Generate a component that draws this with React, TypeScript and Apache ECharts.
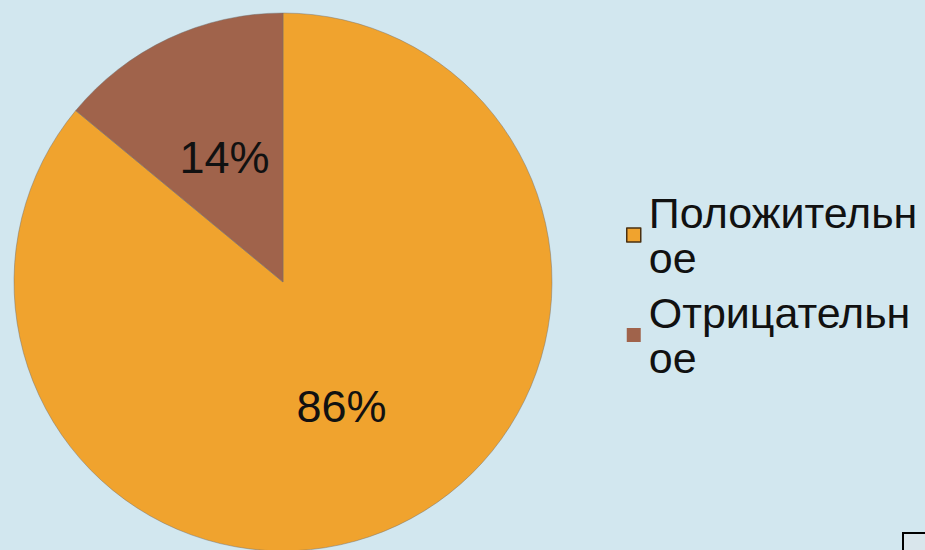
import React, { useEffect, useRef } from "react";
import * as echarts from "echarts";

const categories = ["Положительное", "Отрицательное"];
const values = [86, 14];
const colors = ["#F0A32E", "#A0634B"];

export default function App() {
  const ref = useRef<HTMLDivElement>(null);
  useEffect(() => {
    if (!ref.current) return;
    const chart = echarts.init(ref.current, null, { renderer: "svg" });
    chart.setOption({
      animation: false,
      backgroundColor: "#D2E7EF",
      textStyle: { fontFamily: "Liberation Sans, Arial, sans-serif" },
      legend: {
        orient: "vertical",
        left: 621,
        top: 185,
        itemWidth: 14,
        itemHeight: 14,
        itemGap: 10,
        icon: "rect",
        data: categories.map((n, i) => ({
          name: n,
          itemStyle: i === 0 ? { borderColor: "#4a3010", borderWidth: 1.5 } : { borderWidth: 0 },
        })),
        formatter: (name: string) => name.slice(0, 11) + "\n" + name.slice(11),
        textStyle: {
          fontSize: 43,
          lineHeight: 45,
          color: "#111",
          fontFamily: "Liberation Sans, Arial, sans-serif",
          padding: [0, 0, 0, 3],
        },
      },
      graphic: [
        {
          type: "rect",
          shape: { x: 903, y: 533, width: 40, height: 40 },
          style: { fill: "#D9E6EC", stroke: "#000", lineWidth: 2 },
        },
      ],
      series: [
        {
          type: "pie",
          center: [283, 282],
          radius: [0, 269],
          startAngle: 90,
          clockwise: true,
          silent: true,
          itemStyle: { borderColor: "rgba(110,110,110,0.45)", borderWidth: 1 },
          label: {
            position: "inside",
            formatter: "{c}%",
            fontSize: 45,
            color: "#111",
            fontFamily: "Liberation Sans, Arial, sans-serif",
          },
          labelLine: { show: false },
          data: categories.map((n, i) => ({
            name: n,
            value: values[i],
            itemStyle: { color: colors[i] },
          })),
        },
      ],
    });
    return () => chart.dispose();
  }, []);
  return (
    <div
      ref={ref}
      style={{ position: "fixed", left: 0, top: 0, width: 925, height: 550 }}
    />
  );
}
